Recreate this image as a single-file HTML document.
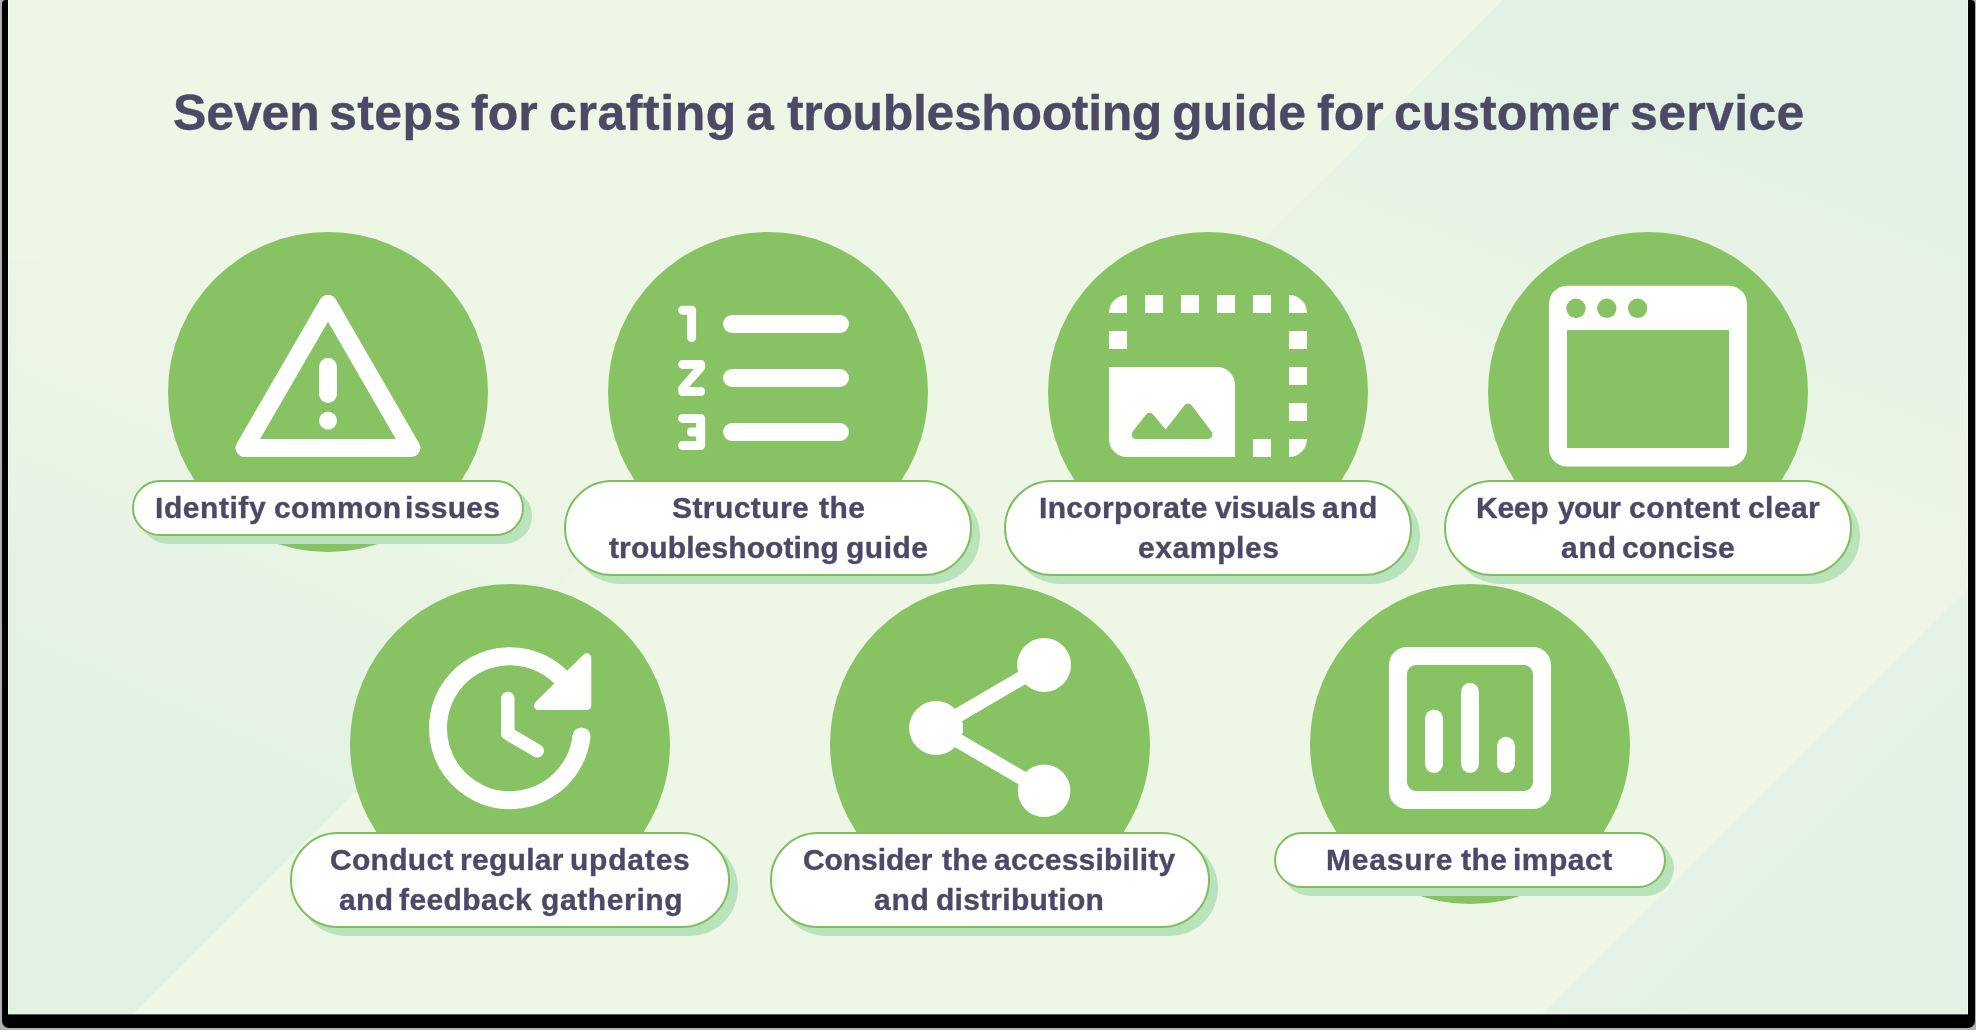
<!DOCTYPE html><html lang="en"><head><meta charset="utf-8"><title>Seven steps</title><style>
html,body{margin:0;padding:0;}
body{width:1976px;height:1030px;overflow:hidden;background:#b0b0b0;position:relative;font-family:"Liberation Sans",sans-serif;}
#frame{position:absolute;left:1.5px;top:0;width:1973px;height:1027.5px;background:#000;border-radius:4px 4px 7px 7px;}
#edge{position:absolute;left:8px;top:-1px;width:1958px;height:1014px;border:1px solid rgba(255,255,255,0.35);pointer-events:none;}
#bg{position:absolute;left:8px;top:0;width:1960px;height:1014px;background:#eef6e6;overflow:hidden;}
.c{position:absolute;width:320px;height:320px;border-radius:50%;background:#87c263;}
.ps{position:absolute;background:#b9e3bd;}
.p{position:absolute;background:#fff;border:2px solid #7fbe5b;box-sizing:border-box;}
.t{position:absolute;white-space:nowrap;font-weight:700;color:#4c4967;line-height:1;will-change:transform;-webkit-text-stroke:0.35px #4c4967;}
svg{position:absolute;left:0;top:0;}
</style></head><body>
<div id="frame"></div><div id="bg"></div>
<svg width="1976" height="1030" viewBox="0 0 1976 1030"><defs><linearGradient id="g1" gradientUnits="userSpaceOnUse" x1="-82.0" y1="182.0" x2="-266.5" y2="591.5"><stop offset="0" stop-color="#e2f1e3" stop-opacity="0"/><stop offset="1" stop-color="#e2f1e3" stop-opacity="1"/></linearGradient><linearGradient id="g2" gradientUnits="userSpaceOnUse" x1="36.3" y1="-93.2" x2="199.7" y2="-512.6"><stop offset="0" stop-color="#e2f1e3" stop-opacity="0"/><stop offset="1" stop-color="#e2f1e3" stop-opacity="1"/></linearGradient><linearGradient id="g3" gradientUnits="userSpaceOnUse" x1="1755" y1="802" x2="1968" y2="1015"><stop offset="0" stop-color="#e2f1e3" stop-opacity="0.7"/><stop offset="0.5" stop-color="#e2f1e3" stop-opacity="1"/></linearGradient></defs><polygon fill="url(#g1)" points="8,261 886,261 133,1014 8,1014"/><polygon fill="url(#g2)" points="1503,0 1968,0 1968,589 1543,1014 489,1014"/><polygon fill="url(#g3)" points="1968,589 1968,1014 1543,1014"/></svg>
<div class="c" style="left:168px;top:232px"></div>
<div class="c" style="left:608px;top:232px"></div>
<div class="c" style="left:1048px;top:232px"></div>
<div class="c" style="left:1488px;top:232px"></div>
<div class="c" style="left:350px;top:584px"></div>
<div class="c" style="left:830px;top:584px"></div>
<div class="c" style="left:1310px;top:584px"></div>
<svg width="1976" height="1030" viewBox="0 0 1976 1030"><g fill="none" stroke="#fff" stroke-width="18" stroke-linejoin="round" stroke-linecap="round"><path d="M328 303.8 L244.5 448 L411.4 448 Z"/><path d="M328 366.8 V394"/></g><circle cx="328" cy="420.7" r="9" fill="#fff"/>
<g fill="none" stroke="#fff" stroke-linecap="round" stroke-linejoin="round"><g stroke-width="18"><path d="M732 324H840"/><path d="M732 378H840"/><path d="M732 432H840"/></g><g stroke-width="9"><path d="M682.6 310.2H691.6V337.5"/><path stroke="none" fill="#fff" d="M682.6 359.9H700.7A4.5 4.5 0 0 1 705.2 364.4V367Q705.2 368.7 704.2 369.9L689.3 387H700.7A4.5 4.5 0 0 1 700.7 396H682.6A4.5 4.5 0 0 1 678.1 391.5V389Q678.1 387.3 679.1 386.1L693.8 368.9H682.6A4.5 4.5 0 0 1 682.6 359.9Z"/><path d="M682.6 418.4H700.7V445.5H682.6M700.7 432H691.3"/></g></g>
<g fill="#fff"><path d="M1127 295V313H1109A18 18 0 0 1 1127 295Z"/><path d="M1289 295A18 18 0 0 1 1307 313H1289Z"/><path d="M1289 439H1307A18 18 0 0 1 1289 457Z"/><rect x="1145" y="295" width="18" height="18"/><rect x="1181" y="295" width="18" height="18"/><rect x="1217" y="295" width="18" height="18"/><rect x="1253" y="295" width="18" height="18"/><rect x="1109" y="331" width="18" height="18"/><rect x="1289" y="331" width="18" height="18"/><rect x="1289" y="367" width="18" height="18"/><rect x="1289" y="403" width="18" height="18"/><rect x="1253" y="439" width="18" height="18"/><path fill-rule="evenodd" d="M1109 367H1217A18 18 0 0 1 1235 385V457H1127A18 18 0 0 1 1109 439Z M1136.21 439.00A4.5 4.5 0 0 1 1132.66 431.74 L1146.06 414.52A4.5 4.5 0 0 1 1153.07 414.41 L1165.60 429.50 L1184.49 405.16A4.5 4.5 0 0 1 1191.64 405.22 L1211.59 431.80A4.5 4.5 0 0 1 1208.00 439.00Z"/></g>
<path fill="#fff" fill-rule="evenodd" d="M1567 285.8H1729A18 18 0 0 1 1747 303.8V448.5A18 18 0 0 1 1729 466.5H1567A18 18 0 0 1 1549 448.5V303.8A18 18 0 0 1 1567 285.8Z M1567 330V448H1729V330Z"/><g fill="#87c263"><circle cx="1576" cy="308.3" r="9.7"/><circle cx="1606.8" cy="308.3" r="9.7"/><circle cx="1637.6" cy="308.3" r="9.7"/></g>
<g fill="none" stroke="#fff" stroke-linecap="round" stroke-linejoin="round"><path stroke-width="18" stroke-linecap="butt" d="M566 683 A72 72 0 1 0 581.5 736.4"/><circle cx="581.5" cy="736.4" r="9" fill="#fff" stroke="none"/><path stroke-width="13.5" d="M507.8 698.5V733.5L537.2 750.8"/></g><path fill="#fff" stroke="#fff" stroke-width="9" stroke-linejoin="round" d="M586.8 657.8V705.5H538.5Z"/>
<g fill="#fff"><circle cx="936.1" cy="728" r="27"/><circle cx="1044.1" cy="665" r="27"/><circle cx="1044.1" cy="790.8" r="26.3"/></g><path fill="none" stroke="#fff" stroke-width="14.3" d="M1044.1 665L936.1 728L1044.1 790.8"/>
<path fill="#fff" fill-rule="evenodd" d="M1407 647H1533A18 18 0 0 1 1551 665V791A18 18 0 0 1 1533 809H1407A18 18 0 0 1 1389 791V665A18 18 0 0 1 1407 647Z M1416 665A9 9 0 0 0 1407 674V782A9 9 0 0 0 1416 791H1524A9 9 0 0 0 1533 782V674A9 9 0 0 0 1524 665Z"/><g fill="none" stroke="#fff" stroke-width="18" stroke-linecap="round"><path d="M1434 718.6V764"/><path d="M1470 691.8V764"/><path d="M1506 745.8V764"/></g></svg>
<div id="edge"></div>
<div class="ps" style="left:140px;top:488px;width:392px;height:56px;border-radius:28.0px"></div>
<div class="p" style="left:132px;top:480px;width:392px;height:56px;border-radius:28.0px"></div>
<div class="ps" style="left:572px;top:488px;width:408px;height:96px;border-radius:48.0px"></div>
<div class="p" style="left:564px;top:480px;width:408px;height:96px;border-radius:48.0px"></div>
<div class="ps" style="left:1012px;top:488px;width:408px;height:96px;border-radius:48.0px"></div>
<div class="p" style="left:1004px;top:480px;width:408px;height:96px;border-radius:48.0px"></div>
<div class="ps" style="left:1452px;top:488px;width:408px;height:96px;border-radius:48.0px"></div>
<div class="p" style="left:1444px;top:480px;width:408px;height:96px;border-radius:48.0px"></div>
<div class="ps" style="left:298px;top:840px;width:440px;height:96px;border-radius:48.0px"></div>
<div class="p" style="left:290px;top:832px;width:440px;height:96px;border-radius:48.0px"></div>
<div class="ps" style="left:778px;top:840px;width:440px;height:96px;border-radius:48.0px"></div>
<div class="p" style="left:770px;top:832px;width:440px;height:96px;border-radius:48.0px"></div>
<div class="ps" style="left:1282px;top:840px;width:392px;height:56px;border-radius:28.0px"></div>
<div class="p" style="left:1274px;top:832px;width:392px;height:56px;border-radius:28.0px"></div>
<div class="t" id="t0" style="left:173.20px;top:88.47px;font-size:50px;letter-spacing:-0.132px">Seven</div>
<div class="t" id="t1" style="left:329.00px;top:88.47px;font-size:50px;letter-spacing:0.444px">steps</div>
<div class="t" id="t2" style="left:471.40px;top:88.47px;font-size:50px;letter-spacing:0.072px">for</div>
<div class="t" id="t3" style="left:549.40px;top:88.47px;font-size:50px;letter-spacing:0.577px">crafting</div>
<div class="t" id="t4" style="left:746.40px;top:88.47px;font-size:50px;letter-spacing:-3.113px">a</div>
<div class="t" id="t5" style="left:786.60px;top:88.47px;font-size:50px;letter-spacing:-0.364px">troubleshooting</div>
<div class="t" id="t6" style="left:1172.20px;top:88.47px;font-size:50px;letter-spacing:0.168px">guide</div>
<div class="t" id="t7" style="left:1316.60px;top:88.47px;font-size:50px;letter-spacing:0.072px">for</div>
<div class="t" id="t8" style="left:1393.60px;top:88.47px;font-size:50px;letter-spacing:-0.011px">customer</div>
<div class="t" id="t9" style="left:1630.00px;top:88.47px;font-size:50px;letter-spacing:0.335px">service</div>
<div class="t" id="t10" style="left:155.20px;top:493.08px;font-size:30px;letter-spacing:0.561px">Identify</div>
<div class="t" id="t11" style="left:273.60px;top:493.08px;font-size:30px;letter-spacing:0.437px">common</div>
<div class="t" id="t12" style="left:404.60px;top:493.08px;font-size:30px;letter-spacing:0.319px">issues</div>
<div class="t" id="t13" style="left:672.40px;top:493.08px;font-size:30px;letter-spacing:0.430px">Structure</div>
<div class="t" id="t14" style="left:819.20px;top:493.08px;font-size:30px;letter-spacing:0.500px">the</div>
<div class="t" id="t15" style="left:609.00px;top:533.09px;font-size:30px;letter-spacing:0.107px">troubleshooting</div>
<div class="t" id="t16" style="left:846.20px;top:533.09px;font-size:30px;letter-spacing:0.500px">guide</div>
<div class="t" id="t17" style="left:1039.20px;top:493.08px;font-size:30px;letter-spacing:0.337px">Incorporate</div>
<div class="t" id="t18" style="left:1214.60px;top:493.08px;font-size:30px;letter-spacing:-0.122px">visuals</div>
<div class="t" id="t19" style="left:1322.20px;top:493.08px;font-size:30px;letter-spacing:1.028px">and</div>
<div class="t" id="t20" style="left:1137.80px;top:533.09px;font-size:30px;letter-spacing:0.605px">examples</div>
<div class="t" id="t21" style="left:1475.60px;top:493.08px;font-size:30px;letter-spacing:-0.253px">Keep</div>
<div class="t" id="t22" style="left:1558.00px;top:493.08px;font-size:30px;letter-spacing:-0.672px">your</div>
<div class="t" id="t23" style="left:1628.80px;top:493.08px;font-size:30px;letter-spacing:0.479px">content</div>
<div class="t" id="t24" style="left:1747.60px;top:493.08px;font-size:30px;letter-spacing:0.430px">clear</div>
<div class="t" id="t25" style="left:1560.60px;top:533.09px;font-size:30px;letter-spacing:0.928px">and</div>
<div class="t" id="t26" style="left:1622.20px;top:533.09px;font-size:30px;letter-spacing:0.178px">concise</div>
<div class="t" id="t27" style="left:330.40px;top:845.09px;font-size:30px;letter-spacing:0.293px">Conduct</div>
<div class="t" id="t28" style="left:460.40px;top:845.09px;font-size:30px;letter-spacing:0.280px">regular</div>
<div class="t" id="t29" style="left:570.00px;top:845.09px;font-size:30px;letter-spacing:0.795px">updates</div>
<div class="t" id="t30" style="left:338.60px;top:885.09px;font-size:30px;letter-spacing:0.328px">and</div>
<div class="t" id="t31" style="left:399.20px;top:885.09px;font-size:30px;letter-spacing:0.389px">feedback</div>
<div class="t" id="t32" style="left:541.20px;top:885.09px;font-size:30px;letter-spacing:0.616px">gathering</div>
<div class="t" id="t33" style="left:802.60px;top:845.09px;font-size:30px;letter-spacing:-0.090px">Consider</div>
<div class="t" id="t34" style="left:941.60px;top:845.09px;font-size:30px;letter-spacing:0.300px">the</div>
<div class="t" id="t35" style="left:994.20px;top:845.09px;font-size:30px;letter-spacing:0.229px">accessibility</div>
<div class="t" id="t36" style="left:874.40px;top:885.09px;font-size:30px;letter-spacing:0.728px">and</div>
<div class="t" id="t37" style="left:936.00px;top:885.09px;font-size:30px;letter-spacing:0.256px">distribution</div>
<div class="t" id="t38" style="left:1325.60px;top:845.09px;font-size:30px;letter-spacing:0.778px">Measure</div>
<div class="t" id="t39" style="left:1460.60px;top:845.09px;font-size:30px;letter-spacing:0.500px">the</div>
<div class="t" id="t40" style="left:1513.00px;top:845.09px;font-size:30px;letter-spacing:0.499px">impact</div>
</body></html>
